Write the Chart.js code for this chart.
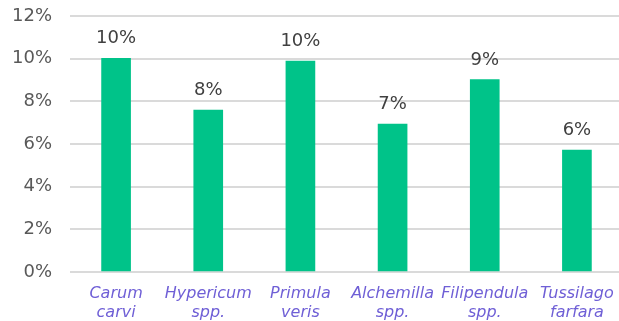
<!DOCTYPE html>
<html>
<head>
<meta charset="utf-8">
<script src="https://cdn.jsdelivr.net/npm/chart.js@4"></script>
<style>
  html, body { margin: 0; padding: 0; overflow: hidden; background: #fff; }
  #wrap { width: 623px; height: 321px; }
</style>
</head>
<body>
<div id="wrap"><canvas id="bar-chart" width="623" height="321"></canvas></div>
<script>
// data (percent)
var categories = [["Carum", "carvi"], ["Hypericum", "spp."], ["Primula", "veris"],
                  ["Alchemilla", "spp."], ["Filipendula", "spp."], ["Tussilago", "farfara"]];
var shares = [10.02, 7.59, 9.89, 6.93, 9.02, 5.71];
var yTicks = [0, 2, 4, 6, 8, 10, 12];

// draws the rounded % above each bar
var barLabels = {
    id: 'barLabels',
    afterDatasetsDraw: function(chart){
        var ctx = chart.ctx;
        var meta = chart.getDatasetMeta(0);
        ctx.save();
        ctx.font = '18px "DejaVu Sans"';
        ctx.fillStyle = '#404040';
        ctx.textAlign = 'center';
        ctx.textBaseline = 'alphabetic';
        meta.data.forEach(function(bar, i){
            ctx.fillText(Math.round(shares[i]) + '%', bar.x, bar.y - 15);
        });
        ctx.restore();
    }
};

function createBarChart(){
    new Chart(document.getElementById("bar-chart"), {
        type: 'bar',
        data: {
            labels: categories,
            datasets: [{
                data: shares,
                backgroundColor: '#00C389',
                borderWidth: 0,
                barThickness: 29
            }]
        },
        options: {
            responsive: false,
            animation: false,
            layout: { padding: { left: 0, top: 16, right: 0, bottom: 0 } },
            plugins: {
                legend: { display: false },
                tooltip: { enabled: false }
            },
            scales: {
                x: {
                    grid: { display: false, drawTicks: false },
                    border: { display: false },
                    afterFit: function(axis){
                        axis.height = 49;
                        axis.paddingLeft = 0;
                        axis.paddingRight = 0;
                    },
                    ticks: {
                        color: '#6f5fd6',
                        padding: 13,
                        maxRotation: 0,
                        autoSkip: false,
                        font: { family: 'DejaVu Sans', size: 16, style: 'italic', lineHeight: 1.15 }
                    }
                },
                y: {
                    min: yTicks[0],
                    max: yTicks[yTicks.length - 1],
                    afterBuildTicks: function(axis){
                        axis.ticks = yTicks.map(function(v){ return { value: v }; });
                    },
                    afterFit: function(axis){
                        axis.width = 70;
                        axis.paddingTop = 0;
                        axis.paddingBottom = 0;
                    },
                    grid: { color: '#dadada', lineWidth: 2, drawTicks: false },
                    border: { display: false },
                    ticks: {
                        color: '#595959',
                        padding: 18,
                        font: { family: 'DejaVu Sans', size: 18 },
                        callback: function(v){ return v + '%'; }
                    }
                }
            }
        },
        plugins: [barLabels]
    });
}

createBarChart();
</script>
</body>
</html>
